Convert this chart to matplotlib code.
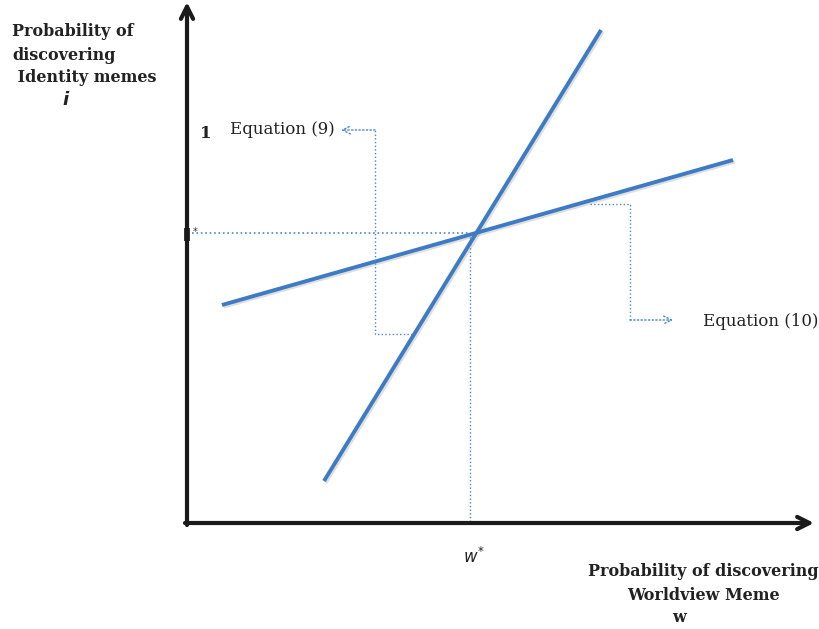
import matplotlib
matplotlib.use("Agg")
import matplotlib.pyplot as plt
import matplotlib.patheffects as pe

# Diagram in pixel coordinates (y grows downward)
W, H = 819, 629
BLUE = "#3d7cc4"
DOT = "#4a86c8"
INK = "#222222"

origin = (187, 523)
x_axis_end = (814, 523)
y_axis_end = (187, 2)

# Equation (9): steep line, Equation (10): shallow line
eq9_x = [324, 601]
eq9_y = [481, 30]
eq10_x = [222, 733]
eq10_y = [305, 160]

equilibrium = (470, 233)

# callout paths (dotted connectors)
eq9_path_x = [412, 375, 375, 341]
eq9_path_y = [334, 334, 130, 130]
eq10_path_x = [590, 630, 630, 673]
eq10_path_y = [204, 204, 320, 320]

y_label_lines = ["Probability of", "discovering", " Identity memes"]
x_label_lines = ["Probability of discovering", "Worldview Meme", "w"]

fig = plt.figure(figsize=(W / 100, H / 100), dpi=100)
ax = fig.add_axes([0, 0, 1, 1])
ax.set_xlim(0, W)
ax.set_ylim(H, 0)
ax.axis("off")

serif = ["DejaVu Serif"]
shadow = [pe.SimpleLineShadow(offset=(1.2, -1.2), alpha=0.25, shadow_color="gray"),
          pe.Normal()]

# axes arrows
ax.annotate("", xy=x_axis_end, xytext=(origin[0] - 2, origin[1]),
            arrowprops=dict(arrowstyle="->", lw=3, color="#1a1a1a",
                            mutation_scale=22, shrinkA=0, shrinkB=0))
ax.annotate("", xy=y_axis_end, xytext=(origin[0], origin[1] + 2),
            arrowprops=dict(arrowstyle="->", lw=3, color="#1a1a1a",
                            mutation_scale=22, shrinkA=0, shrinkB=0))

# dotted guide lines to the equilibrium point
ax.plot([192, equilibrium[0]], [equilibrium[1]] * 2, ls=":", lw=1.2, color=DOT)
ax.plot([equilibrium[0]] * 2, [equilibrium[1], origin[1]], ls=":", lw=1.0, color=DOT)
ax.plot([187, 187], [228, 241], lw=4, color="black", solid_capstyle="butt")
ax.text(193, 232, "*", fontsize=7, ha="left", va="center", color="#333333")

# the two lines
ax.plot(eq9_x, eq9_y, lw=2.8, color=BLUE, solid_capstyle="butt", path_effects=shadow)
ax.plot(eq10_x, eq10_y, lw=2.8, color=BLUE, solid_capstyle="butt", path_effects=shadow)

# callouts
ax.plot(eq9_path_x[:-1], eq9_path_y[:-1], ls=":", lw=1.0, color=DOT)
ax.annotate("", xy=(eq9_path_x[-1], eq9_path_y[-1]),
            xytext=(eq9_path_x[-2], eq9_path_y[-2]),
            arrowprops=dict(arrowstyle="->", ls=":", lw=1.0, color=DOT,
                            mutation_scale=14, shrinkA=0, shrinkB=0))
ax.plot(eq10_path_x[:-1], eq10_path_y[:-1], ls=":", lw=1.0, color=DOT)
ax.annotate("", xy=(eq10_path_x[-1], eq10_path_y[-1]),
            xytext=(eq10_path_x[-2], eq10_path_y[-2]),
            arrowprops=dict(arrowstyle="->", ls=":", lw=1.0, color=DOT,
                            mutation_scale=14, shrinkA=0, shrinkB=0))

ax.text(335, 130, "Equation (9)", fontsize=12, family=serif, ha="right",
        va="center", color=INK)
ax.text(703, 322, "Equation (10)", fontsize=12, family=serif, ha="left",
        va="center", color=INK)

# labels
ax.text(200, 133, "1", fontsize=12, family=serif, weight="bold",
        ha="left", va="center", color=INK)
for line, y in zip(y_label_lines, [32, 55, 78]):
    ax.text(12, y, line, fontsize=11.5, family=serif, weight="bold",
            ha="left", va="center", color=INK)
ax.text(66, 100, "$\\boldsymbol{i}$", fontsize=13, ha="center", va="center",
        color=INK)
ax.text(474, 557, "$w^{*}$", fontsize=12, ha="center", va="center",
        color=INK)
for line, y, x in zip(x_label_lines, [572, 595, 618], [703, 703, 679]):
    ax.text(x, y, line, fontsize=11.5, family=serif, weight="bold",
            ha="center", va="center", color=INK)

fig.savefig("out.png", dpi=100)
